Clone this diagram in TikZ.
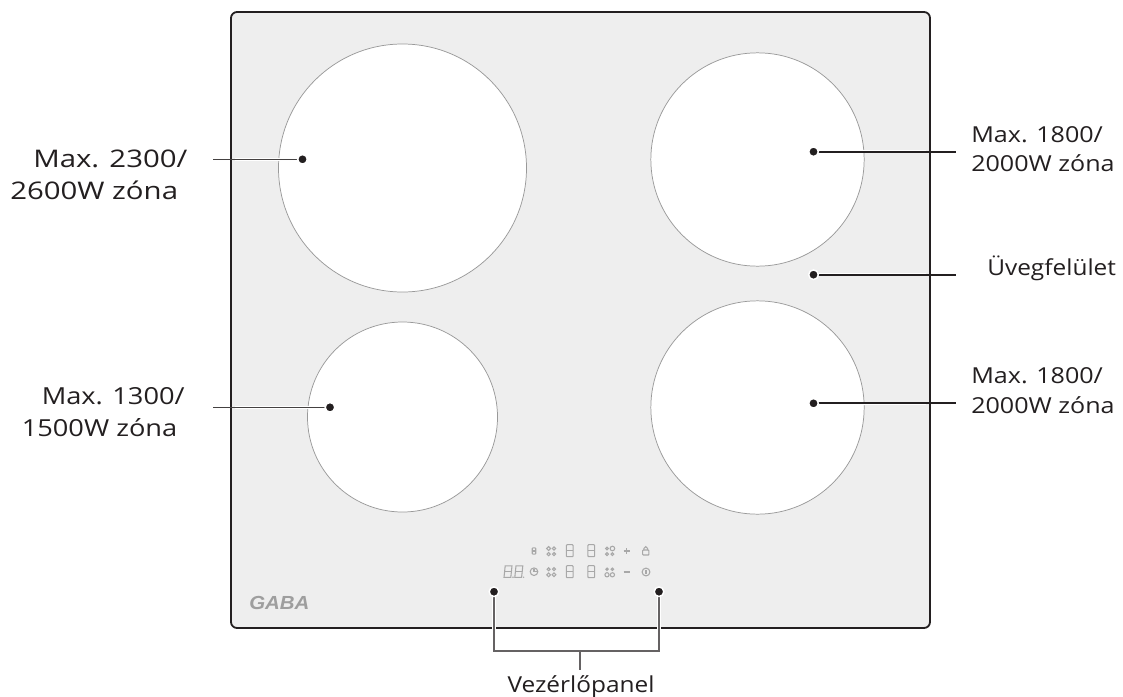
\documentclass[tikz,border=0pt]{standalone}
\usepackage{fontspec}
\setmainfont{Open Sans}
\newfontfamily\fa[FakeStretch=1.21]{Open Sans}
\newfontfamily\fb[FakeStretch=1.16]{Open Sans}
\newfontfamily\fc[FakeStretch=1.14]{Open Sans}
\newfontfamily\fd[FakeStretch=1.11]{Open Sans}
\newfontfamily\logofont[FakeStretch=1.08]{Liberation Sans}
\definecolor{glass}{HTML}{EEEEEE}
\definecolor{ink}{HTML}{231F20}
\definecolor{icon}{HTML}{A8A8A8}
\tikzset{
  zone/.style={circle,draw=black!40,line width=0.55pt,fill=white,minimum size=#1,inner sep=0pt},
  lbla/.style={font=\fa\fontsize{18.2pt}{20pt}\selectfont,text=ink,inner sep=0pt,anchor=base west},
  lblb/.style={font=\fb\fontsize{17.6pt}{20pt}\selectfont,text=ink,inner sep=0pt,anchor=base west},
  lblc/.style={font=\fc\fontsize{16.5pt}{20pt}\selectfont,text=ink,inner sep=0pt,anchor=base west},
  lbld/.style={font=\fd\fontsize{16.5pt}{20pt}\selectfont,text=ink,inner sep=0pt,anchor=base west},
  halo/.style={draw=white,line width=2.6pt},
  leaderL/.style={draw=ink!85,line width=1.2pt},
  leaderR/.style={draw=ink,line width=1.6pt},
  bracket/.style={draw=ink!70,line width=1.1pt},
  tick/.style={circle,fill=ink,draw=white,line width=1.1pt,minimum size=7.2pt,inner sep=0pt},
  icn/.style={draw=icon,line width=0.8pt,fill=none},
}
\newcommand{\digit}[3]{% x y scale
  \begin{scope}[shift={(#1,#2)},x=#3*0.75pt,y=-#3*0.75pt]
    \draw[icn,rounded corners=0.6pt] (-3.4,-6) rectangle (3.4,6);
    \draw[icn] (-3.4,0) -- (3.4,0);
  \end{scope}}
\begin{document}
\begin{tikzpicture}[x=0.75pt,y=-0.75pt]
\useasboundingbox (0,0) rectangle (1123,696);
\fill[white] (0,0) rectangle (1123,696);
\draw[draw=ink,line width=1.35pt,fill=glass,rounded corners=4.5pt] (231,12) rectangle (930,628);

\node[zone=186pt] (z1) at (402.5,168) {};
\node[zone=160pt] (z2) at (757.5,159.5) {};
\node[zone=142.5pt] (z3) at (402.5,417) {};
\node[zone=160pt] (z4) at (757.5,407.5) {};

% control panel
\digit{534}{551}{0.52}
\digit{569.7}{550.7}{1}
\digit{591.3}{550.7}{1}
\digit{569.7}{571.7}{1}
\digit{591.3}{571.7}{1}
\foreach \cx/\cy/\a/\b/\c/\d in {
  551.3/551.3/1.9/1.6/1.6/1.6,
  551.3/572/1.5/1.5/1.9/1.9,
  609.7/551.3/1.4/2.3/1.4/1.4,
  609.7/572/1.2/1.2/2.1/2.1}{
  \draw[icn] (\cx-2.7,\cy-2.8) circle[radius=\a*0.75pt];
  \draw[icn] (\cx+2.7,\cy-2.8) circle[radius=\b*0.75pt];
  \draw[icn] (\cx-2.7,\cy+2.8) circle[radius=\c*0.75pt];
  \draw[icn] (\cx+2.7,\cy+2.8) circle[radius=\d*0.75pt];
}
\draw[icon,line width=1.1pt] (623.5,551) -- (629.5,551) (626.5,548) -- (626.5,554);
\draw[icon,line width=1.1pt] (623.5,572) -- (629.5,572);
\draw[icn,rounded corners=0.5pt] (642.7,550) rectangle (648.9,555);
\draw[icn] (643.9,550) -- (643.9,548.5) arc[start angle=180,end angle=0,radius=1.9*0.75pt] -- (647.7,550);
\draw[icn] (646,572) circle[radius=3.9*0.75pt];
\draw[icn] (646,569.8) -- (646,573.6);
\draw[icn] (534,571.7) circle[radius=3.8*0.75pt];
\draw[icn] (534,569.2) -- (534,571.7) -- (536.5,571.7);
\foreach \xx in {508,518.8}{
  \draw[icn] (\xx-2.8,565.8) -- (\xx+4,565.8) -- (\xx+2.8,577.4) -- (\xx-4,577.4) -- cycle;
  \draw[icn] (\xx-3.4,571.6) -- (\xx+3.4,571.6);
}
\fill[icon] (513,577.2) circle[radius=0.6pt] (523.6,577.2) circle[radius=0.6pt];

% logo
\node[inner sep=0pt,text=black!38,anchor=base west] (logo) at (249,609) {\logofont\fontsize{14.2pt}{15pt}\selectfont\bfseries\itshape GABA};

% labels
\node[lbla] (t1a) at (33,167.3) {Max. 2300/};
\node[lbla] (t1b) at (10,199.3) {2600W zóna};
\node[lblb] (t4a) at (41.5,404.3) {Max. 1300/};
\node[lblb] (t4b) at (21.5,436.3) {1500W zóna};
\node[lblc] (t2a) at (971,142.3) {Max. 1800/};
\node[lblc] (t2b) at (971,171) {2000W zóna};
\node[lbld] (t3) at (987,275) {Üvegfelület};
\node[lblc] (t5a) at (971,383.5) {Max. 1800/};
\node[lblc] (t5b) at (971,413) {2000W zóna};
\node[lbld,anchor=base] (t6) at (581,692.7) {Vezérlőpanel};

% leaders
\coordinate (p1) at (302.5,159.3);
\coordinate (p2) at (813.5,151.7);
\coordinate (p3) at (813.5,274.7);
\coordinate (p4) at (330,407.3);
\coordinate (p5) at (813.5,403.3);
\coordinate (p6) at (494,591.7);
\coordinate (p7) at (659,591.7);
\coordinate (e1) at (213,159.3);
\coordinate (e2) at (955.7,151.7);
\coordinate (e3) at (955.7,274.7);
\coordinate (e4) at (213,407.3);
\coordinate (e5) at (955.7,403.3);
\coordinate (jl) at (494,651);
\coordinate (jr) at (659,651);
\coordinate (jm) at (580,651);
\coordinate (jb) at (580,670);
\draw[halo,line width=1.8pt] (p1) -- (235,159.3);
\draw[halo,line width=1.8pt] (p4) -- (235,407.3);
\draw[halo,line width=2.6pt] (p2) -- (926,151.7);
\draw[halo,line width=2.6pt] (p3) -- (926,274.7);
\draw[halo,line width=2.6pt] (p5) -- (926,403.3);
\draw[halo,line width=3.6pt] (p6) -- (494,634);
\draw[halo,line width=3.6pt] (p7) -- (659,634);
\draw[leaderL] (e1) -- (p1);
\draw[leaderL] (e4) -- (p4);
\draw[leaderR] (e2) -- (p2);
\draw[leaderR] (e3) -- (p3);
\draw[leaderR] (e5) -- (p5);
\draw[bracket] (p6) -- (jl) -- (jr) -- (p7);
\draw[bracket] (jm) -- (jb);
\node[tick] (d1) at (p1) {};
\node[tick] (d2) at (p2) {};
\node[tick] (d3) at (p3) {};
\node[tick] (d4) at (p4) {};
\node[tick] (d5) at (p5) {};
\node[tick] (d6) at (p6) {};
\node[tick] (d7) at (p7) {};
\end{tikzpicture}
\end{document}
